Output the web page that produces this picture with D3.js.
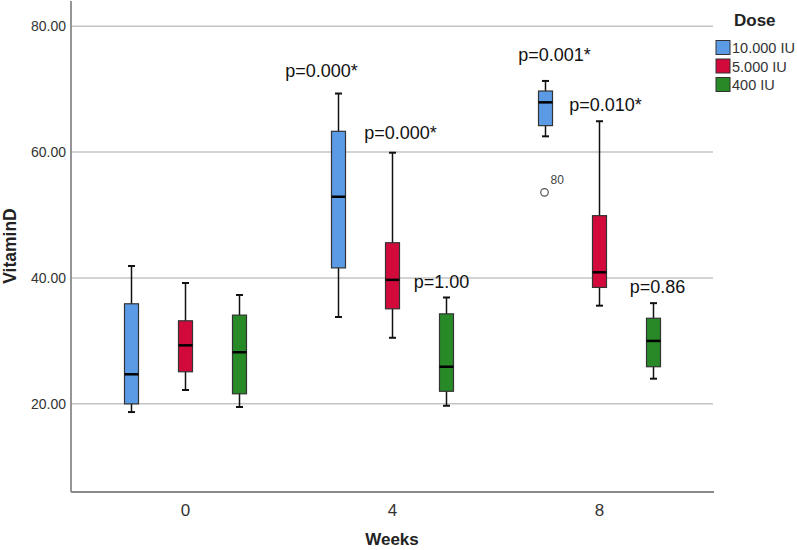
<!DOCTYPE html>
<html>
<head>
<meta charset="utf-8">
<script src="https://cdn.jsdelivr.net/npm/d3@7"></script>
<style>
  html, body { margin: 0; padding: 0; background: #fff; }
  svg { display: block; font-family: "Liberation Sans", Arial, sans-serif; }
</style>
</head>
<body>
<svg id="chart" width="797" height="550"></svg>
<script>
// data
const weeks = ["0", "4", "8"];
const doses = ["10.000 IU", "5.000 IU", "400 IU"];
const doseColors = ["#5b9be6", "#d20a3c", "#278a27"];
const yTicks = [20, 40, 60, 80];

// [min, q1, median, q3, max] per dose
const week0 = [[18.7, 20.0, 24.7, 35.9, 41.9], [22.2, 25.1, 29.3, 33.2, 39.2], [19.5, 21.6, 28.2, 34.1, 37.3]];
const week4 = [[33.8, 41.6, 52.9, 63.3, 69.3], [30.5, 35.1, 39.7, 45.6, 59.9], [19.7, 22.0, 25.9, 34.3, 36.9]];
const week8 = [[62.5, 64.2, 67.9, 69.7, 71.3], [35.6, 38.5, 40.9, 49.9, 64.9], [24.0, 25.9, 30.0, 33.6, 36.0]];

const outliers = [{ week: "8", dose: "10.000 IU", value: 53.6, label: "80" }];

const pValues = [
  [null, null, null],
  ["p=0.000*", "p=0.000*", "p=1.00"],
  ["p=0.001*", "p=0.010*", "p=0.86"],
];
// where each p label sits relative to its whisker top (px)
const pOffsets = [
  [null, null, null],
  [[-17, -23], [8, -20], [-5, -15]],
  [[9, -26], [6, -16], [4, -16]],
];

const svg = d3.select("#chart");
const left = 71, bottom = 492, right = 714;

const y = d3.scaleLinear().domain([6, 84]).range([492, 1]);
const x = d3.scaleBand().domain(weeks).range([82, 703]);
const xi = d3.scalePoint().domain(doses).range([-54, 54]);

// gridlines
svg.append("g").selectAll("line").data(yTicks).join("line")
  .attr("x1", left).attr("x2", right - 1)
  .attr("y1", d => y(d)).attr("y2", d => y(d))
  .attr("stroke", "#c4c4c4").attr("stroke-width", 1.5);

// y axis
const yAxis = svg.append("g").attr("transform", `translate(${left},0)`)
  .call(d3.axisLeft(y).tickValues(yTicks).tickSize(0).tickPadding(5).tickFormat(d3.format(".2f")));
yAxis.select(".domain").remove();
yAxis.selectAll("text").attr("font-size", "14px").attr("fill", "#333")
  .attr("font-family", "Liberation Sans, Arial, sans-serif");

// x axis
const xAxis = svg.append("g").attr("transform", `translate(0,${bottom})`)
  .call(d3.axisBottom(x).tickSize(0).tickPadding(12));
xAxis.select(".domain").remove();
xAxis.selectAll("text").attr("font-size", "17px").attr("fill", "#333")
  .attr("font-family", "Liberation Sans, Arial, sans-serif");

svg.append("line").attr("x1", left).attr("x2", left).attr("y1", 1).attr("y2", bottom)
  .attr("stroke", "#8a8a8a").attr("stroke-width", 1.8);
svg.append("line").attr("x1", left).attr("x2", right).attr("y1", bottom).attr("y2", bottom)
  .attr("stroke", "#8a8a8a").attr("stroke-width", 1.8);

// axis titles
svg.append("text").attr("x", 392).attr("y", 545).attr("text-anchor", "middle")
  .attr("font-size", "17px").attr("font-weight", "bold").attr("fill", "#222").text("Weeks");
svg.append("text").attr("transform", "translate(16,246) rotate(-90)").attr("text-anchor", "middle")
  .attr("font-size", "17.5px").attr("font-weight", "bold").attr("fill", "#222").text("VitaminD");

// boxes
const stats = [week0, week4, week8];
const boxes = [];
weeks.forEach((w, wi) => {
  doses.forEach((d, di) => {
    boxes.push({ week: w, dose: d, color: doseColors[di], s: stats[wi][di], p: pValues[wi][di], off: pOffsets[wi][di] });
  });
});

const bw = 7, cw = 3.5;
const g = svg.append("g").selectAll("g").data(boxes).join("g")
  .attr("transform", d => `translate(${x(d.week) + x.bandwidth() / 2 + xi(d.dose)},0)`);

g.append("line").attr("x1", 0).attr("x2", 0)
  .attr("y1", d => y(d.s[0])).attr("y2", d => y(d.s[4]))
  .attr("stroke", "#111").attr("stroke-width", 1.5);
g.append("line").attr("x1", -cw).attr("x2", cw)
  .attr("y1", d => y(d.s[0])).attr("y2", d => y(d.s[0]))
  .attr("stroke", "#111").attr("stroke-width", 2);
g.append("line").attr("x1", -cw).attr("x2", cw)
  .attr("y1", d => y(d.s[4])).attr("y2", d => y(d.s[4]))
  .attr("stroke", "#111").attr("stroke-width", 2);
g.append("rect").attr("x", -bw).attr("width", bw * 2)
  .attr("y", d => y(d.s[3])).attr("height", d => y(d.s[1]) - y(d.s[3]))
  .attr("fill", d => d.color).attr("stroke", "#333").attr("stroke-width", 1.2);
g.append("line").attr("x1", -bw).attr("x2", bw)
  .attr("y1", d => y(d.s[2])).attr("y2", d => y(d.s[2]))
  .attr("stroke", "#000").attr("stroke-width", 2.5);

// p labels
g.filter(d => d.p).append("text")
  .attr("x", d => d.off[0])
  .attr("y", d => y(d.s[4]) + d.off[1] + 6)
  .attr("text-anchor", "middle").attr("font-size", "18px").attr("fill", "#111")
  .text(d => d.p);

// outliers
outliers.forEach(o => {
  const ox = x(o.week) + x.bandwidth() / 2 + xi(o.dose);
  svg.append("circle").attr("cx", ox - 1).attr("cy", y(o.value)).attr("r", 3.8)
    .attr("fill", "none").attr("stroke", "#555").attr("stroke-width", 1.2);
  svg.append("text").attr("x", ox + 5).attr("y", y(o.value) - 8)
    .attr("font-size", "12px").attr("fill", "#444").text(o.label);
});

// legend
const lg = svg.append("g");
lg.append("text").attr("x", 734).attr("y", 26).attr("font-size", "17px")
  .attr("font-weight", "bold").attr("fill", "#222").text("Dose");
const rows = lg.selectAll("g").data(doses).join("g")
  .attr("transform", (d, i) => `translate(716,${47.5 + i * 18.5})`);
rows.append("rect").attr("x", 0).attr("y", -7).attr("width", 14).attr("height", 14)
  .attr("fill", (d, i) => doseColors[i]).attr("stroke", "#333").attr("stroke-width", 1);
rows.append("text").attr("x", 16).attr("y", 5.5).attr("font-size", "14.5px").attr("fill", "#333")
  .text(d => d);
</script>
</body>
</html>
